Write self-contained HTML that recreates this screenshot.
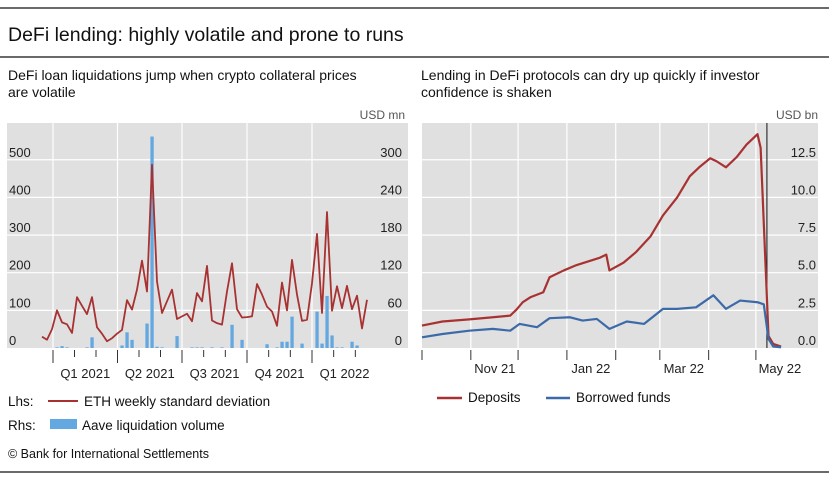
<!DOCTYPE html>
<html><head><meta charset="utf-8"><style>
body{margin:0;background:#fff;}
svg{display:block;font-family:"Liberation Sans",sans-serif;}
</style></head><body>
<svg id="chart" width="829" height="486" viewBox="0 0 829 486">
<line x1="0" y1="8" x2="829" y2="8" stroke="#111" stroke-width="1.3"/>
<text x="8" y="41" font-size="19.5" fill="#111">DeFi lending: highly volatile and prone to runs</text>
<line x1="0" y1="57" x2="829" y2="57" stroke="#111" stroke-width="1.3"/>
<text x="8" y="80" font-size="14" fill="#111"><tspan x="8">DeFi loan liquidations jump when crypto collateral prices</tspan><tspan x="8" dy="17">are volatile</tspan></text>
<text x="421" y="80" font-size="14" fill="#111"><tspan x="421">Lending in DeFi protocols can dry up quickly if investor</tspan><tspan x="421" dy="17">confidence is shaken</tspan></text>
<text x="405" y="119" font-size="12" fill="#555" text-anchor="end">USD mn</text>
<text x="818" y="119" font-size="12" fill="#555" text-anchor="end">USD bn</text>
<rect x="7" y="123" width="401" height="225" fill="#e0e0e0"/>
<rect x="422" y="123" width="396" height="225" fill="#e0e0e0"/>
<g id="left"></g><g id="right"></g>
<line x1="48" y1="401" x2="78" y2="401" stroke="#a83232" stroke-width="2"/>
<text x="8" y="406" font-size="13.5" fill="#111">Lhs:</text>
<text x="84" y="406" font-size="13.5" fill="#111">ETH weekly standard deviation</text>
<rect x="50" y="419" width="27" height="10" fill="#63a8e0"/>
<text x="8" y="430" font-size="13.5" fill="#111">Rhs:</text>
<text x="82" y="430" font-size="13.5" fill="#111">Aave liquidation volume</text>
<line x1="437" y1="398" x2="462" y2="398" stroke="#a83232" stroke-width="2.5"/>
<text x="468" y="402" font-size="13.5" fill="#111">Deposits</text>
<line x1="546" y1="398" x2="570" y2="398" stroke="#3c6aa8" stroke-width="2.5"/>
<text x="576" y="402" font-size="13.5" fill="#111">Borrowed funds</text>
<text x="8" y="458" font-size="12.5" fill="#111">© Bank for International Settlements</text>
<line x1="0" y1="472" x2="829" y2="472" stroke="#111" stroke-width="1.3"/>
</svg>
<script>
// Left chart data
const ethStd = [30,22,50,100,68,63,40,135,112,90,135,55,38,18,26,38,48,127,102,155,232,150,487,177,93,124,155,77,84,91,71,146,124,218,73,66,62,150,225,103,81,82,84,170,142,110,97,59,174,100,234,142,72,75,172,303,93,361,99,164,106,165,103,139,52,128];
const aaveIdx = [3,4,5,9,10,16,17,18,21,22,23,24,27,30,31,32,34,36,38,40,45,47,48,49,50,52,55,56,57,58,59,60,62,63];
const aaveVal = [1,3,1,1,17,4,25,13,39,337,2,1,19,1,1,1,1,1,37,13,6,1,10,10,50,7,58,7,83,20,1,1,10,4];
const lhsTicks = [0,100,200,300,400,500];
const rhsTicks = [0,60,120,180,240,300];
const quarterLabels = ["Q1 2021","Q2 2021","Q3 2021","Q4 2021","Q1 2022"];
// Right chart data (day offset from 1 Oct 2021)
const depDays = [0,13,30,45,56,60,64,69,77,81,90,98,107,113,117,119,128,136,145,153,162,170,176,183,187,193,200,206,213,215,220,223,228];
const depVals = [1.49,1.76,1.9,2.04,2.15,2.55,3.04,3.38,3.7,4.7,5.15,5.5,5.8,6.0,6.2,5.15,5.67,6.38,7.4,8.8,10.0,11.4,12.0,12.6,12.4,12.0,12.7,13.5,14.2,13.3,0.8,0.27,0.1];
const borDays = [0,13,30,45,56,62,73,81,94,102,111,119,130,141,153,162,174,185,193,202,213,217,220,223,228];
const borVals = [0.71,0.93,1.15,1.27,1.15,1.6,1.38,1.98,2.04,1.82,1.93,1.27,1.76,1.6,2.6,2.6,2.7,3.5,2.6,3.15,3.04,2.9,0.6,0.1,0.05];
const rTicks = [0,2.5,5,7.5,10,12.5];
const monthLabels = ["Nov 21","Jan 22","Mar 22","May 22"];
const monthStarts = [0,31,61,92,123,151,182,212];
const eventDay = 219;

const NS="http://www.w3.org/2000/svg";
function mk(tag,attrs,parent){const e=document.createElementNS(NS,tag);for(const k in attrs)e.setAttribute(k,attrs[k]);parent.appendChild(e);return e;}
const L=document.getElementById('left'), R=document.getElementById('right');
const yBase=348, yPer=37.65;
const xL=i=>42+i*5.0;
const yLhs=v=>yBase-v/100*yPer;
const yRhs=v=>yBase-v/60*yPer;
const xR=d=>422+d*1.575;
const yR=v=>yBase-v/2.5*yPer;

// left grid
lhsTicks.forEach((t,k)=>{ if(k>0){const g=mk('line',{x1:7,x2:408,y1:yLhs(t),y2:yLhs(t),stroke:'#fff','stroke-width':1.2},L);

}
const a=mk('text',{x:9,y:yLhs(t)-3,'font-size':13,fill:'#222'},L);a.textContent=t;


const b=mk('text',{x:402,y:yRhs(rhsTicks[k])-3,'font-size':13,fill:'#222','text-anchor':'end'},L);b.textContent=rhsTicks[k];


});
const qx=[53,117.5,182,247,312,377];
for(let q=0;q<5;q++){
 const v=mk('line',{x1:qx[q],x2:qx[q],y1:123,y2:348,stroke:'#fff','stroke-width':1.2},L);
 
 
 const tk=mk('line',{x1:qx[q],x2:qx[q],y1:350,y2:363,stroke:'#333','stroke-width':1},L);
 
 
 for(const f of [1/3,2/3]){const m=mk('line',{x1:qx[q]+(qx[q+1]-qx[q])*f,x2:qx[q]+(qx[q+1]-qx[q])*f,y1:350,y2:357,stroke:'#333'},L);
 
 }
 const t=mk('text',{x:(qx[q]+qx[q+1])/2,y:378,'font-size':13,fill:'#222','text-anchor':'middle'},L);t.textContent=quarterLabels[q];
 
 
}
aaveIdx.forEach((i,k)=>{const v=aaveVal[k];const b=mk('rect',{x:xL(i)-1.6,y:yRhs(v),width:3.3,height:yBase-yRhs(v),fill:'#63a8e0'},L);

});
const p1=mk('polyline',{points:ethStd.map((v,i)=>xL(i)+','+yLhs(v)).join(' '),fill:'none',stroke:'#a83232','stroke-width':1.8,'stroke-linejoin':'round'},L);



// right grid
rTicks.forEach((t,k)=>{ if(k>0){const g=mk('line',{x1:422,x2:818,y1:yR(t),y2:yR(t),stroke:'#fff','stroke-width':1.2},R);

}
const a=mk('text',{x:816,y:yR(t)-3,'font-size':13,fill:'#222','text-anchor':'end'},R);a.textContent=t.toFixed(1);

});
monthStarts.forEach((d,k)=>{const x=xR(d);
 if(k>0){const v=mk('line',{x1:x,x2:x,y1:123,y2:348,stroke:'#fff','stroke-width':1.2},R);
 
 }
 const tk=mk('line',{x1:x,x2:x,y1:350,y2:360,stroke:'#333'},R);
 
 
 if(k%2==1){const t=mk('text',{x:x+24,y:373,'font-size':13,fill:'#222','text-anchor':'middle'},R);t.textContent=monthLabels[(k-1)/2];
 
 }
});
const ev=mk('line',{x1:xR(eventDay),x2:xR(eventDay),y1:123,y2:348,stroke:'#111','stroke-width':1},R);


const p2=mk('polyline',{points:depDays.map((d,i)=>xR(d)+','+yR(depVals[i])).join(' '),fill:'none',stroke:'#a83232','stroke-width':2.2,'stroke-linejoin':'round'},R);


const p3=mk('polyline',{points:borDays.map((d,i)=>xR(d)+','+yR(borVals[i])).join(' '),fill:'none',stroke:'#3c6aa8','stroke-width':2.2,'stroke-linejoin':'round'},R);


</script>
</body></html>
